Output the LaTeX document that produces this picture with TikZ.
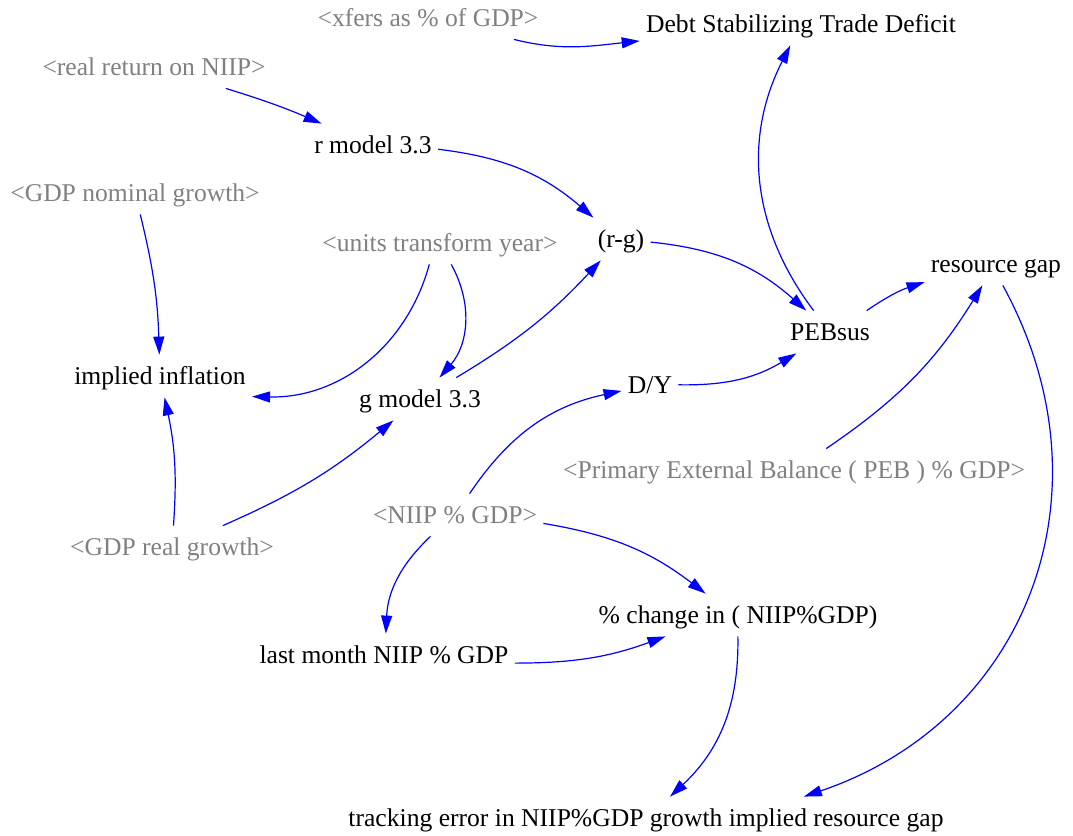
\documentclass[tikz,border=0pt]{standalone}
\usepackage{fontspec}
\setmainfont{Liberation Serif}
\usetikzlibrary{arrows.meta}

\begin{document}
\begin{tikzpicture}[x=0.5pt,y=-0.5pt,
  var/.style={inner xsep=3pt,inner ysep=4.25pt,text height=10.5pt,text depth=2pt,
    font=\fontsize{12.8}{15}\selectfont},
  shadow/.style={var,text=gray},
  link/.style={draw=blue,line width=0.6pt,-{Triangle[length=9pt,width=5.5pt]}}]
  \useasboundingbox (0,0) rectangle (1073,836);
  \node[shadow] (xfers) at (428,18) {<xfers as \% of GDP>};
  \node[var] (debt) at (801,24) {Debt Stabilizing Trade Deficit};
  \node[shadow] (realret) at (154,67) {<real return on NIIP>};
  \node[var] (rmodel) at (373,145) {r model 3.3};
  \node[shadow] (gdpnom) at (135,193) {<GDP nominal growth>};
  \node[shadow] (units) at (440,243) {<units transform year>};
  \node[var] (rg) at (621,239) {(r-g)};
  \node[var] (resgap) at (996,264) {resource gap};
  \node[var] (pebsus) at (830,332) {PEBsus};
  \node[var] (inflation) at (160,376) {implied inflation};
  \node[var] (gmodel) at (420,399) {g model 3.3};
  \node[var] (dy) at (650,385) {D/Y};
  \node[shadow] (peb) at (794,470) {<Primary External Balance ( PEB ) \% GDP>};
  \node[shadow] (niip) at (455,515) {<NIIP \% GDP>};
  \node[shadow] (gdpreal) at (172,547) {<GDP real growth>};
  \node[var] (pchange) at (738,615) {\% change in ( NIIP\%GDP)};
  \node[var] (lastmonth) at (384,655) {last month NIIP \% GDP};
  \node[var] (tracking) at (646,818) {tracking error in NIIP\%GDP growth implied resource gap};

  \draw[link] (xfers) to[out=-14,in=186] (debt);
  \draw[link] (realret) to[bend left=3] (rmodel);
  \draw[link] (rmodel) to[bend left=17] (rg);
  \draw[link] (pebsus) to[bend left=32] (debt);
  \draw[link] (gdpnom) to[bend left=6] (inflation);
  \draw[link] (units) to[bend left=38] (inflation);
  \draw[link] (units) to[bend left=35] (gmodel);
  \draw[link] (gmodel) to[bend right=8] (rg);
  \draw[link] (rg) to[bend left=18] (pebsus);
  \draw[link] (dy) to[bend right=16] (pebsus);
  \draw[link] (pebsus) to[bend left=8] (resgap);
  \draw[link] (peb) to[bend right=12] (resgap);
  \draw[link] (resgap) to[bend left=50,looseness=1.1] (tracking);
  \draw[link] (gdpreal) to[bend right=8] (inflation);
  \draw[link] (gdpreal) to[bend right=8] (gmodel);
  \draw[link] (niip) to[bend left=22] (dy);
  \draw[link] (niip) to[bend left=14] (pchange);
  \draw[link] (niip) to[bend right=22] (lastmonth);
  \draw[link] (lastmonth) to[bend right=10] (pchange);
  \draw[link] (pchange) to[bend left=24] (tracking);
\end{tikzpicture}
\end{document}
